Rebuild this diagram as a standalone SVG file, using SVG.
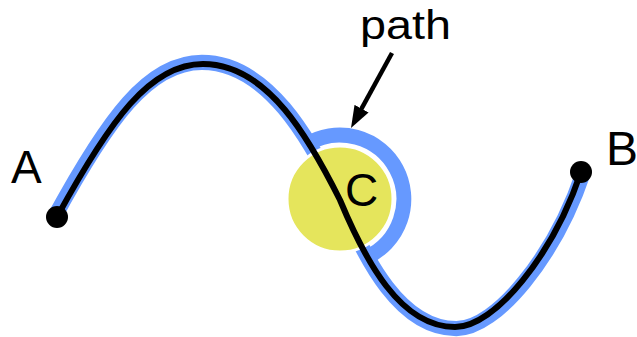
<svg xmlns="http://www.w3.org/2000/svg" width="637" height="337" viewBox="0 0 637 337">
  <style>
    .lbl { font-family: "Liberation Sans", Arial, sans-serif; fill: #000; }
    .blue { fill: none; stroke: #6699ff; stroke-width: 15; }
    .curve { fill: none; stroke: #000; stroke-width: 6; }
    .dot { fill: #000; }
  </style>
  <defs>
    <marker id="arrowhead" markerUnits="userSpaceOnUse" markerWidth="22" markerHeight="16" viewBox="0 0 22 16" refX="12" refY="8" orient="auto">
      <path d="M0,0 L22,8 L0,16 Z" fill="#000"/>
    </marker>
  </defs>
  <rect width="637" height="337" fill="#fff"/>
  <g id="connectors">
    <path id="blue-path" class="blue" transform="translate(320,195) scale(1.01,1.012) translate(-320,-195)" d="M57,217 C110,120 150,64 203,64 C268,64 310,140 340,200 C365,260 400,327 455,327 C495,327 553,255 581,172"/>
    <path id="blue-arc" class="blue" d="M306.1,144.7 A64,64 0 1 1 366.0,257.5"/>
  </g>
  <g id="node-C">
    <circle cx="340" cy="199" r="53" fill="#e5e55c" stroke="#fff" stroke-width="3"/>
  </g>
  <g id="curve">
    <path class="curve" d="M57,217 C110,120 150,64 203,64 C268,64 310,140 340,200 C365,260 400,327 455,327 C495,327 553,255 581,172"/>
  </g>
  <g id="node-A">
    <circle class="dot" cx="57" cy="217" r="11"/>
    <text class="lbl" x="11" y="183" font-size="46">A</text>
  </g>
  <g id="node-B">
    <circle class="dot" cx="581" cy="172" r="11"/>
    <text class="lbl" x="606" y="165" font-size="48">B</text>
  </g>
  <g id="label-C">
    <text class="lbl" x="345" y="206" font-size="46">C</text>
  </g>
  <g id="label-path">
    <text class="lbl" x="360" y="39" font-size="40" textLength="91" lengthAdjust="spacingAndGlyphs">path</text>
    <line x1="392" y1="53" x2="355.8" y2="119.2" stroke="#000" stroke-width="4.5" marker-end="url(#arrowhead)"/>
  </g>
</svg>
